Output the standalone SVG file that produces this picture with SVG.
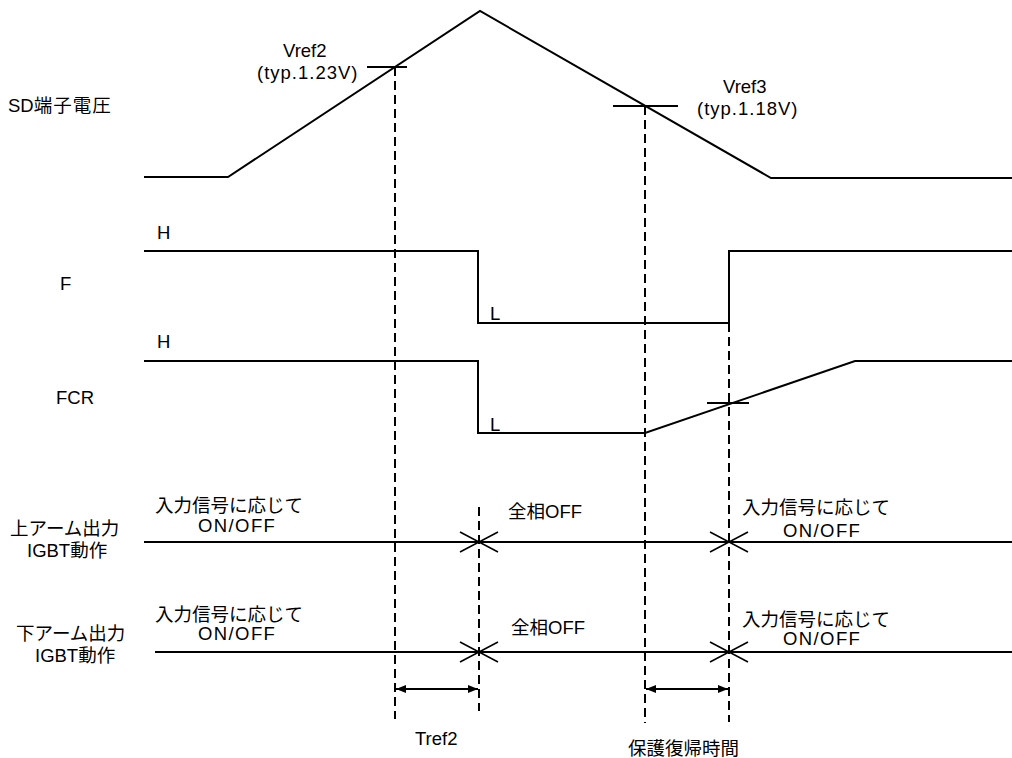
<svg xmlns="http://www.w3.org/2000/svg" width="1012" height="758" viewBox="0 0 1012 758">
<style>
.t{font-family:"Liberation Sans","Noto Sans CJK JP",sans-serif;font-size:18.5px;fill:#000}
.s{fill:none;stroke:#000;stroke-width:2}
.d{fill:none;stroke:#000;stroke-width:2;stroke-dasharray:9 5}
.a{fill:none;stroke:#000;stroke-width:1.6}
</style>
<defs>
<marker id="ah" viewBox="0 0 10 10" refX="10" refY="5" markerWidth="10" markerHeight="10" markerUnits="userSpaceOnUse" orient="auto-start-reverse">
<path d="M0,1 L10,5 L0,9 Z" fill="#000"/>
</marker>
</defs>
<rect width="1012" height="758" fill="#fff"/>
<g id="labels">
<text class="t" x="8" y="112" font-size="20">SD<tspan letter-spacing="1">端子電圧</tspan></text>
<text class="t" x="157" y="239">H</text>
<text class="t" x="60" y="290">F</text>
<text class="t" x="490" y="320">L</text>
<text class="t" x="157" y="348">H</text>
<text class="t" x="56" y="404">FCR</text>
<text class="t" x="490" y="431">L</text>
<text class="t" x="10" y="535" font-size="20">上アーム出力</text>
<text class="t" x="27" y="557">IGBT動作</text>
<text class="t" x="16" y="640" font-size="20">下アーム出力</text>
<text class="t" x="35" y="662">IGBT動作</text>
</g>
<g id="vref2">
<text class="t" x="283" y="57" font-size="19.5">Vref2</text>
<text class="t" x="257" y="79" letter-spacing="1">(typ.1.23V)</text>
</g>
<g id="vref3">
<text class="t" x="723" y="93" font-size="19.5">Vref3</text>
<text class="t" x="697" y="115" letter-spacing="1">(typ.1.18V)</text>
</g>
<g id="sd">
<polyline class="s" points="144,177 228,177 480,11 771,178 1012,178"/>
<line class="s" x1="367" y1="67" x2="407" y2="67"/>
<line class="s" x1="613" y1="106" x2="678" y2="106"/>
</g>
<g id="f">
<polyline class="s" points="144,251 478,251 478,323 729,323 729,251 1012,251"/>
</g>
<g id="fcr">
<polyline class="s" points="144,361 478,361 478,433 645,433 855,361 1012,361"/>
<line class="s" x1="707" y1="403" x2="749" y2="403"/>
</g>
<g id="upper">
<line class="s" x1="144" y1="542" x2="1012" y2="542"/>
<text class="t" x="155" y="512">入力信号に応じて</text>
<text class="t" x="198" y="532" letter-spacing="1.4">ON/OFF</text>
<text class="t" x="508" y="518">全相OFF</text>
<text class="t" x="742" y="514">入力信号に応じて</text>
<text class="t" x="783" y="537" letter-spacing="1.4">ON/OFF</text>
</g>
<g id="lower">
<line class="s" x1="155" y1="652" x2="1012" y2="652"/>
<text class="t" x="155" y="621">入力信号に応じて</text>
<text class="t" x="198" y="640" letter-spacing="1.4">ON/OFF</text>
<text class="t" x="511" y="634">全相OFF</text>
<text class="t" x="742" y="626">入力信号に応じて</text>
<text class="t" x="783" y="645" letter-spacing="1.4">ON/OFF</text>
</g>
<g id="timing">
<text class="t" x="415" y="745">Tref2</text>
<text class="t" x="628" y="755" font-size="19">保護復帰時間</text>
</g>
<g id="connectors">
<line class="d" x1="395" y1="67" x2="395" y2="719"/>
<line class="d" x1="645" y1="106" x2="645" y2="723"/>
<line class="d" x1="729" y1="323" x2="729" y2="722"/>
<line class="d" x1="479" y1="507" x2="479" y2="711"/>
<path class="a" d="M460,532 L479,542 L460,552 M498,532 L479,542 L498,552"/>
<path class="a" d="M710,532 L729,542 L710,552 M748,532 L729,542 L748,552"/>
<path class="a" d="M460,642 L479,652 L460,662 M498,642 L479,652 L498,662"/>
<path class="a" d="M710,642 L729,652 L710,662 M748,642 L729,652 L748,662"/>
<line class="s" x1="396" y1="689" x2="478" y2="689" marker-start="url(#ah)" marker-end="url(#ah)"/>
<line class="s" x1="646" y1="689" x2="728" y2="689" marker-start="url(#ah)" marker-end="url(#ah)"/>
</g>
</svg>
